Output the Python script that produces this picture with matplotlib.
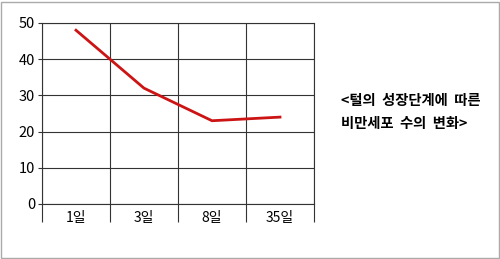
import matplotlib
matplotlib.use("Agg")
import matplotlib.pyplot as plt
from matplotlib.patches import Rectangle

plt.rcParams['font.family'] = ['Noto Sans CJK KR', 'DejaVu Sans']

categories = ['1일', '3일', '8일', '35일']
values = [48, 32, 23, 24]
yticks = [0, 10, 20, 30, 40, 50]
caption = ['<털의  성장단계에  따른', '비만세포  수의  변화>']

fig = plt.figure(figsize=(5.0, 2.59), dpi=100)
ax = fig.add_axes([0.084, 0.2124, 0.544, 0.6988])
x = list(range(len(categories)))
ax.plot(x, values, color='#cc1414', lw=2.0, zorder=3)
ax.set_xlim(-0.5, len(categories) - 0.5)
ax.set_ylim(0, 50)
ax.set_yticks(yticks)
ax.set_xticks(x)
ax.set_xticklabels(categories, fontsize=10)
ax.set_xticks([i - 0.5 for i in range(len(categories) + 1)], minor=True)
ax.tick_params(axis='x', which='major', length=0, pad=5)
ax.tick_params(axis='x', which='minor', length=13, width=0.8, color='#333333', direction='out')
ax.tick_params(axis='y', length=3, width=0.8, color='#333333', labelsize=10.5, pad=2)
for yv in yticks:
    ax.axhline(yv, color='#333333', lw=0.8, zorder=1)
ax.grid(axis='x', which='minor', color='#333333', lw=0.8)
for s in ax.spines.values():
    s.set_color('#333333')
    s.set_linewidth(0.8)

fig.text(0.682, 0.61, caption[0], fontsize=10.3, fontweight='bold', va='center', ha='left')
fig.text(0.682, 0.52, caption[1], fontsize=10.3, fontweight='bold', va='center', ha='left')

fig.patches.append(Rectangle((0.002, 0.004), 0.995, 0.99, transform=fig.transFigure,
                             fill=False, edgecolor='#aaaaaa', lw=1.0))
fig.savefig('out.png', dpi=100)
